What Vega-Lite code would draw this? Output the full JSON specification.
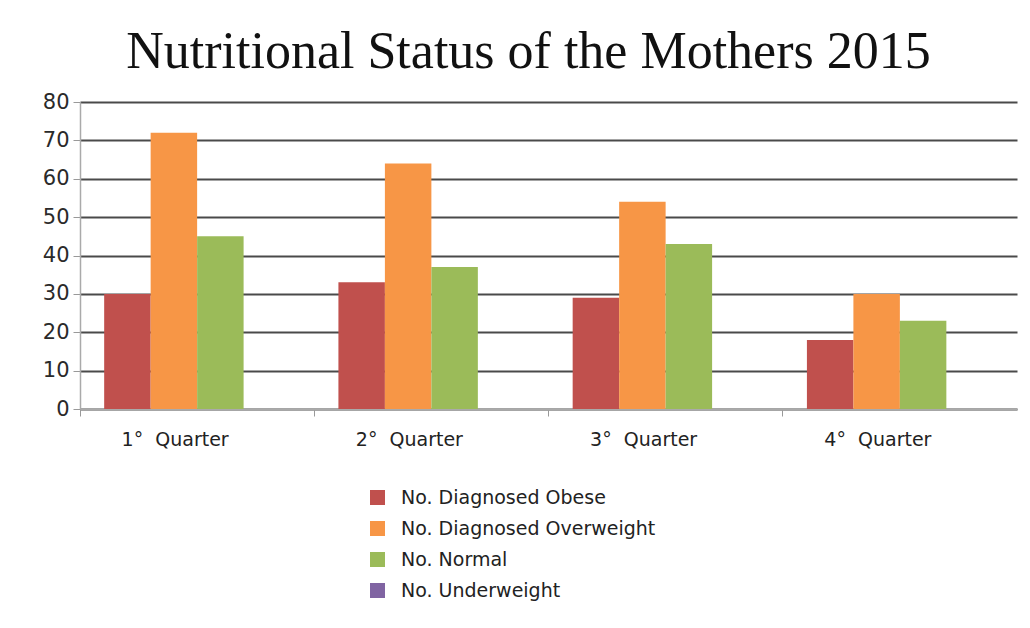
{
  "$schema": "https://vega.github.io/schema/vega-lite/v6.json",
  "autosize": {"type": "none"},
  "width": 937,
  "height": 307,
  "padding": {"left": 80, "top": 102, "right": 13, "bottom": 219},
  "background": "white",
  "title": {
    "text": "Nutritional Status of the Mothers 2015",
    "font": "Liberation Serif",
    "fontSize": 52,
    "fontWeight": "normal",
    "color": "#111111",
    "anchor": "middle",
    "frame": "group",
    "dx": -20,
    "offset": 12
  },
  "data": {
    "values": [
      {"quarter": "1°\u00a0\u00a0Quarter", "series": "No. Diagnosed Obese", "value": 30},
      {"quarter": "1°\u00a0\u00a0Quarter", "series": "No. Diagnosed Overweight", "value": 72},
      {"quarter": "1°\u00a0\u00a0Quarter", "series": "No. Normal", "value": 45},
      {"quarter": "1°\u00a0\u00a0Quarter", "series": "No. Underweight", "value": 0},
      {"quarter": "2°\u00a0\u00a0Quarter", "series": "No. Diagnosed Obese", "value": 33},
      {"quarter": "2°\u00a0\u00a0Quarter", "series": "No. Diagnosed Overweight", "value": 64},
      {"quarter": "2°\u00a0\u00a0Quarter", "series": "No. Normal", "value": 37},
      {"quarter": "2°\u00a0\u00a0Quarter", "series": "No. Underweight", "value": 0},
      {"quarter": "3°\u00a0\u00a0Quarter", "series": "No. Diagnosed Obese", "value": 29},
      {"quarter": "3°\u00a0\u00a0Quarter", "series": "No. Diagnosed Overweight", "value": 54},
      {"quarter": "3°\u00a0\u00a0Quarter", "series": "No. Normal", "value": 43},
      {"quarter": "3°\u00a0\u00a0Quarter", "series": "No. Underweight", "value": 0},
      {"quarter": "4°\u00a0\u00a0Quarter", "series": "No. Diagnosed Obese", "value": 18},
      {"quarter": "4°\u00a0\u00a0Quarter", "series": "No. Diagnosed Overweight", "value": 30},
      {"quarter": "4°\u00a0\u00a0Quarter", "series": "No. Normal", "value": 23},
      {"quarter": "4°\u00a0\u00a0Quarter", "series": "No. Underweight", "value": 0}
    ]
  },
  "mark": {"type": "bar"},
  "encoding": {
    "x": {
      "field": "quarter",
      "type": "nominal",
      "sort": null,
      "scale": {"paddingInner": 0, "paddingOuter": 0},
      "axis": {
        "title": null,
        "labelAngle": 0,
        "bandPosition": 0,
        "labelOffset": -22,
        "labelAlign": "center",
        "labelFont": "DejaVu Sans",
        "labelFontSize": 19,
        "labelColor": "#222222",
        "labelPadding": 14,
        "tickSize": 7,
        "tickColor": "#999999",
        "domainColor": "#aaaaaa",
        "domainWidth": 1.5,
        "grid": false
      }
    },
    "xOffset": {
      "field": "series",
      "type": "nominal",
      "sort": ["No. Diagnosed Obese", "No. Diagnosed Overweight", "No. Normal", "No. Underweight"],
      "scale": {"paddingInner": 0, "paddingOuter": 0.52}
    },
    "y": {
      "field": "value",
      "type": "quantitative",
      "scale": {"domain": [0, 80], "nice": false},
      "axis": {
        "title": null,
        "values": [0, 10, 20, 30, 40, 50, 60, 70, 80],
        "labelFont": "DejaVu Sans",
        "labelFontSize": 21,
        "labelColor": "#2a2a2a",
        "labelPadding": 4,
        "tickSize": 7,
        "tickColor": "#999999",
        "domainColor": "#aaaaaa",
        "domainWidth": 1.5,
        "gridColor": "#4a4a4a",
        "gridWidth": 2
      }
    },
    "color": {
      "field": "series",
      "type": "nominal",
      "sort": ["No. Diagnosed Obese", "No. Diagnosed Overweight", "No. Normal", "No. Underweight"],
      "scale": {"range": ["#C0504D", "#F79646", "#9BBB59", "#8064A2"]},
      "legend": {
        "title": null,
        "orient": "none",
        "legendX": 288,
        "legendY": 386,
        "symbolType": "square",
        "symbolSize": 225,
        "symbolStrokeWidth": 0,
        "labelFont": "DejaVu Sans",
        "labelFontSize": 19,
        "labelColor": "#222222",
        "labelOffset": 14,
        "labelLimit": 400,
        "rowPadding": 11
      }
    }
  },
  "config": {
    "view": {"stroke": null}
  }
}
